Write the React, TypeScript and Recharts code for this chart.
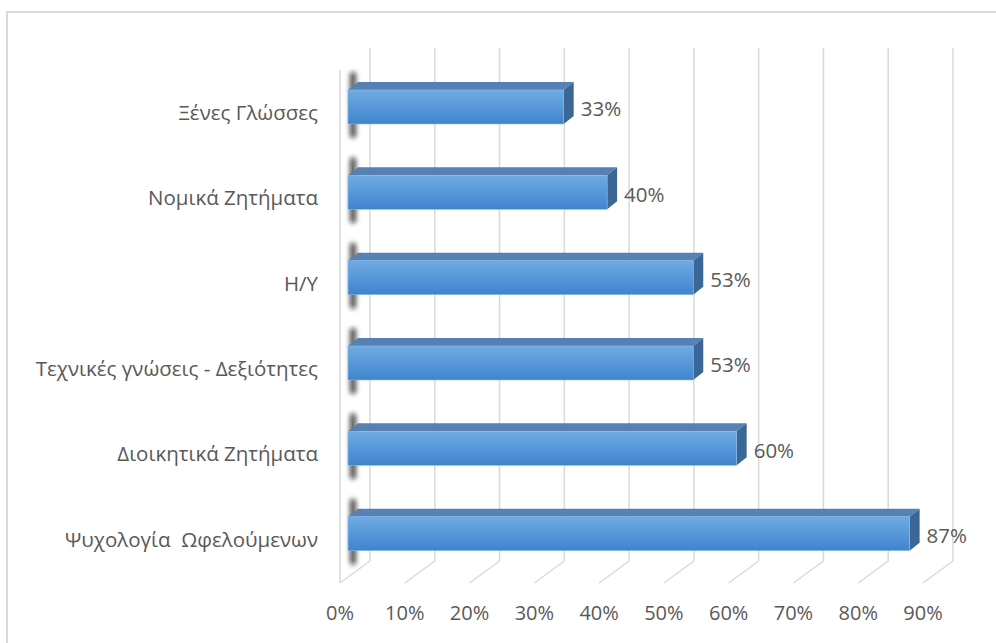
import React from 'react';
import { BarChart, Bar, XAxis, YAxis, CartesianGrid, LabelList } from 'recharts';

const categories = [
  'Ξένες Γλώσσες',
  'Νομικά Ζητήματα',
  'Η/Υ',
  'Τεχνικές γνώσεις - Δεξιότητες',
  'Διοικητικά Ζητήματα',
  'Ψυχολογία  Ωφελούμενων',
];
const values = [0.333, 0.4, 0.533, 0.533, 0.6, 0.867];
const xTicks = [0, 0.1, 0.2, 0.3, 0.4, 0.5, 0.6, 0.7, 0.8, 0.9];

const data = categories.map((c, i) => ({ name: c, value: values[i] }));

const FONT = '"Open Sans", sans-serif';
const TEXT = '#595959';
const GRID = '#d9d9d9';
const DX = 10; // bar depth, x
const DY = 8; // bar depth, y

const Bar3D = (props: any) => {
  const { x, y, width, height } = props;
  return (
    <g>
      <rect x={x + 2} y={y - 18} width={6} height={height + 32} rx={3} fill="#111" opacity={0.75} filter="url(#blurShadow)" />
      <polygon points={`${x},${y} ${x + DX},${y - DY} ${x + width + DX},${y - DY} ${x + width},${y}`} fill="#5682b3" />
      <polygon points={`${x + width},${y} ${x + width + DX},${y - DY} ${x + width + DX},${y + height - DY} ${x + width},${y + height}`} fill="#3b6796" />
      <rect x={x} y={y} width={width} height={height} fill="url(#barFront)" stroke="#8db9e6" strokeWidth={0.6} />
    </g>
  );
};

const gridLine = (props: any) => {
  const { x1, index } = props;
  const bx = x1 + 22;
  const fx = x1 - 8;
  return (
    <g key={`g-${index}`}>
      <line x1={bx} y1={48} x2={bx} y2={561} stroke={GRID} strokeWidth={1.5} />
      <line x1={bx} y1={561} x2={fx} y2={583} stroke={GRID} strokeWidth={1.5} />
      {index === 0 && <line x1={fx} y1={70} x2={fx} y2={583} stroke={GRID} strokeWidth={1.5} />}
    </g>
  );
};

const XTick = (props: any) => {
  const { x, payload } = props;
  return (
    <text x={x - 8} y={615} textAnchor="middle" dominantBaseline="middle" fill={TEXT} fontSize={20} fontFamily={FONT}>
      {`${Math.round(payload.value * 100)}%`}
    </text>
  );
};

const YTick = (props: any) => {
  const { y, payload } = props;
  return (
    <text x={318} y={y + 8} textAnchor="end" dominantBaseline="middle" fill={TEXT} fontSize={20.5} fontFamily={FONT} style={{ whiteSpace: 'pre' }}>
      {payload.value}
    </text>
  );
};

const ValueLabel = (props: any) => {
  const { x, y, width, height, value } = props;
  return (
    <text x={x + width + 17} y={y + height / 2 + 4} dominantBaseline="middle" fill={TEXT} fontSize={20.5} fontFamily={FONT}>
      {`${Math.round(value * 100)}%`}
    </text>
  );
};

export default function App() {
  return (
    <div style={{ position: 'absolute', left: 0, top: 0, width: 996, height: 643, background: '#fff', overflow: 'hidden' }}>
      <div style={{ position: 'absolute', left: 6, top: 11, width: 1100, height: 800, border: '2px solid #d9d9d9' }} />
      <BarChart
        width={996}
        height={643}
        data={data}
        layout="vertical"
        margin={{ top: 64, right: 65, bottom: 37, left: 0 }}
        barSize={34}
        style={{ position: 'absolute', left: 0, top: 0 }}
      >
        <defs>
          <linearGradient id="barFront" x1="0" y1="0" x2="0" y2="1">
            <stop offset="0%" stopColor="#6fabe3" />
            <stop offset="55%" stopColor="#5596d8" />
            <stop offset="100%" stopColor="#3f84cc" />
          </linearGradient>
          <filter id="blurShadow" x="-300%" y="-50%" width="700%" height="200%">
            <feGaussianBlur stdDeviation="2.5" />
          </filter>
        </defs>
        <CartesianGrid horizontal={false} vertical={gridLine} stroke={GRID} />
        <XAxis
          type="number"
          domain={[0, 0.9]}
          ticks={xTicks}
          axisLine={false}
          tickLine={false}
          tick={<XTick />}
          interval={0}
          height={30}
        />
        <YAxis
          type="category"
          dataKey="name"
          width={348}
          axisLine={false}
          tickLine={false}
          tick={<YTick />}
          interval={0}
        />
        <Bar dataKey="value" shape={<Bar3D />} isAnimationActive={false}>
          <LabelList dataKey="value" content={<ValueLabel />} />
        </Bar>
      </BarChart>
    </div>
  );
}
